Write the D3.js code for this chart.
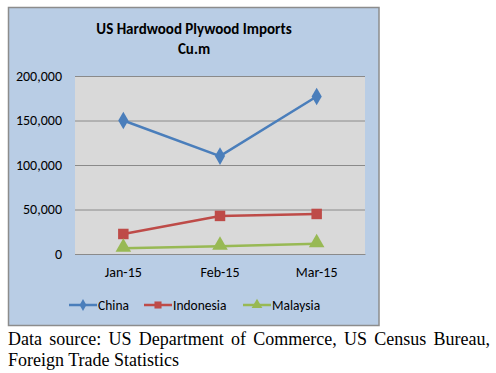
<!DOCTYPE html>
<html><head><meta charset="utf-8">
<script src="https://cdn.jsdelivr.net/npm/d3@7"></script>
<style>
body{margin:0;background:#fff;}
.cap{position:absolute;left:8px;top:329px;width:482px;font-family:"Liberation Serif","Times New Roman",serif;font-size:18px;line-height:21px;text-align:justify;text-align-last:left;color:#000;}
</style></head><body>
<svg id="c" width="496" height="330" style="position:absolute;left:0;top:0"></svg>
<div class="cap">Data source: US Department of Commerce, US Census Bureau, Foreign Trade Statistics</div>
<script>
const categories = ["Jan-15","Feb-15","Mar-15"];
const seriesNames = ["China","Indonesia","Malaysia"];
const china = [150000,110000,177000];
const indonesia = [22500,42800,45000];
const malaysia = [6500,8700,11500];
const yTicks = [0,50000,100000,150000,200000];
const colors = ["#4a7ebb","#be4b48","#98b954"];
const symbols = [d3.symbolDiamond, d3.symbolSquare, d3.symbolTriangle];

const svg = d3.select("#c");
const font = "Carlito, Calibri, 'Open Sans', sans-serif";
svg.append("rect").attr("x",8.5).attr("y",7.5).attr("width",370.5).attr("height",318)
  .attr("fill","#b9cde5").attr("stroke","#8c8c8c").attr("stroke-width",1.5);

const L=75,R=365,T=76,B=254;
const x = d3.scaleBand().domain(categories).range([L,R]);
const y = d3.scaleLinear().domain([0,200000]).range([B,T]);

svg.append("rect").attr("x",L).attr("y",T).attr("width",R-L).attr("height",B-T).attr("fill","#d9d9d9");

svg.append("text").attr("x",194).attr("y",34).attr("text-anchor","middle")
  .attr("font-family",font).attr("font-weight","bold").attr("font-size",15).text("US Hardwood Plywood Imports");
svg.append("text").attr("x",194).attr("y",54).attr("text-anchor","middle")
  .attr("font-family",font).attr("font-weight","bold").attr("font-size",15).text("Cu.m");

const yAxis = svg.append("g").attr("transform",`translate(${L},0)`)
  .call(d3.axisLeft(y).tickValues(yTicks).tickSize(-(R-L)).tickPadding(13).tickFormat(d3.format(",")));
yAxis.select(".domain").remove();
yAxis.selectAll("line").attr("stroke","#8a8a8a").attr("stroke-width",1);
yAxis.selectAll("text").attr("font-family",font).attr("font-size",14).attr("fill","#000");

const xAxis = svg.append("g").attr("transform",`translate(0,${B})`)
  .call(d3.axisBottom(x).tickSize(0).tickPadding(13));
xAxis.select(".domain").attr("stroke","#8a8a8a");
xAxis.selectAll("text").attr("font-family",font).attr("font-size",14).attr("fill","#000");

const data = [china,indonesia,malaysia];
const line = d3.line().x((d,i)=>x(categories[i])+x.bandwidth()/2).y(d=>y(d));
const sizes=[90,110,105];
data.forEach((s,k)=>{
  svg.append("path").attr("d",line(s)).attr("fill","none").attr("stroke",colors[k]).attr("stroke-width",2.5);
  svg.selectAll(null).data(s).enter().append("path")
    .attr("d",d3.symbol().type(symbols[k]).size(sizes[k]))
    .attr("transform",(d,i)=>`translate(${x(categories[i])+x.bandwidth()/2},${y(d)-(k==2?1:0)})`)
    .attr("fill",colors[k]);
});

const lx=[69,144,243];
seriesNames.forEach((n,k)=>{
  const g=svg.append("g").attr("transform",`translate(${lx[k]},305)`);
  g.append("line").attr("x1",0).attr("x2",28).attr("stroke",colors[k]).attr("stroke-width",2.5);
  g.append("path").attr("d",d3.symbol().type(symbols[k]).size(k==0?40:50)).attr("transform","translate(14,0)").attr("fill",colors[k]);
  g.append("text").attr("x",29).attr("y",5).attr("font-family",font).attr("font-size",13.5).text(n);
});
</script>
</body></html>
